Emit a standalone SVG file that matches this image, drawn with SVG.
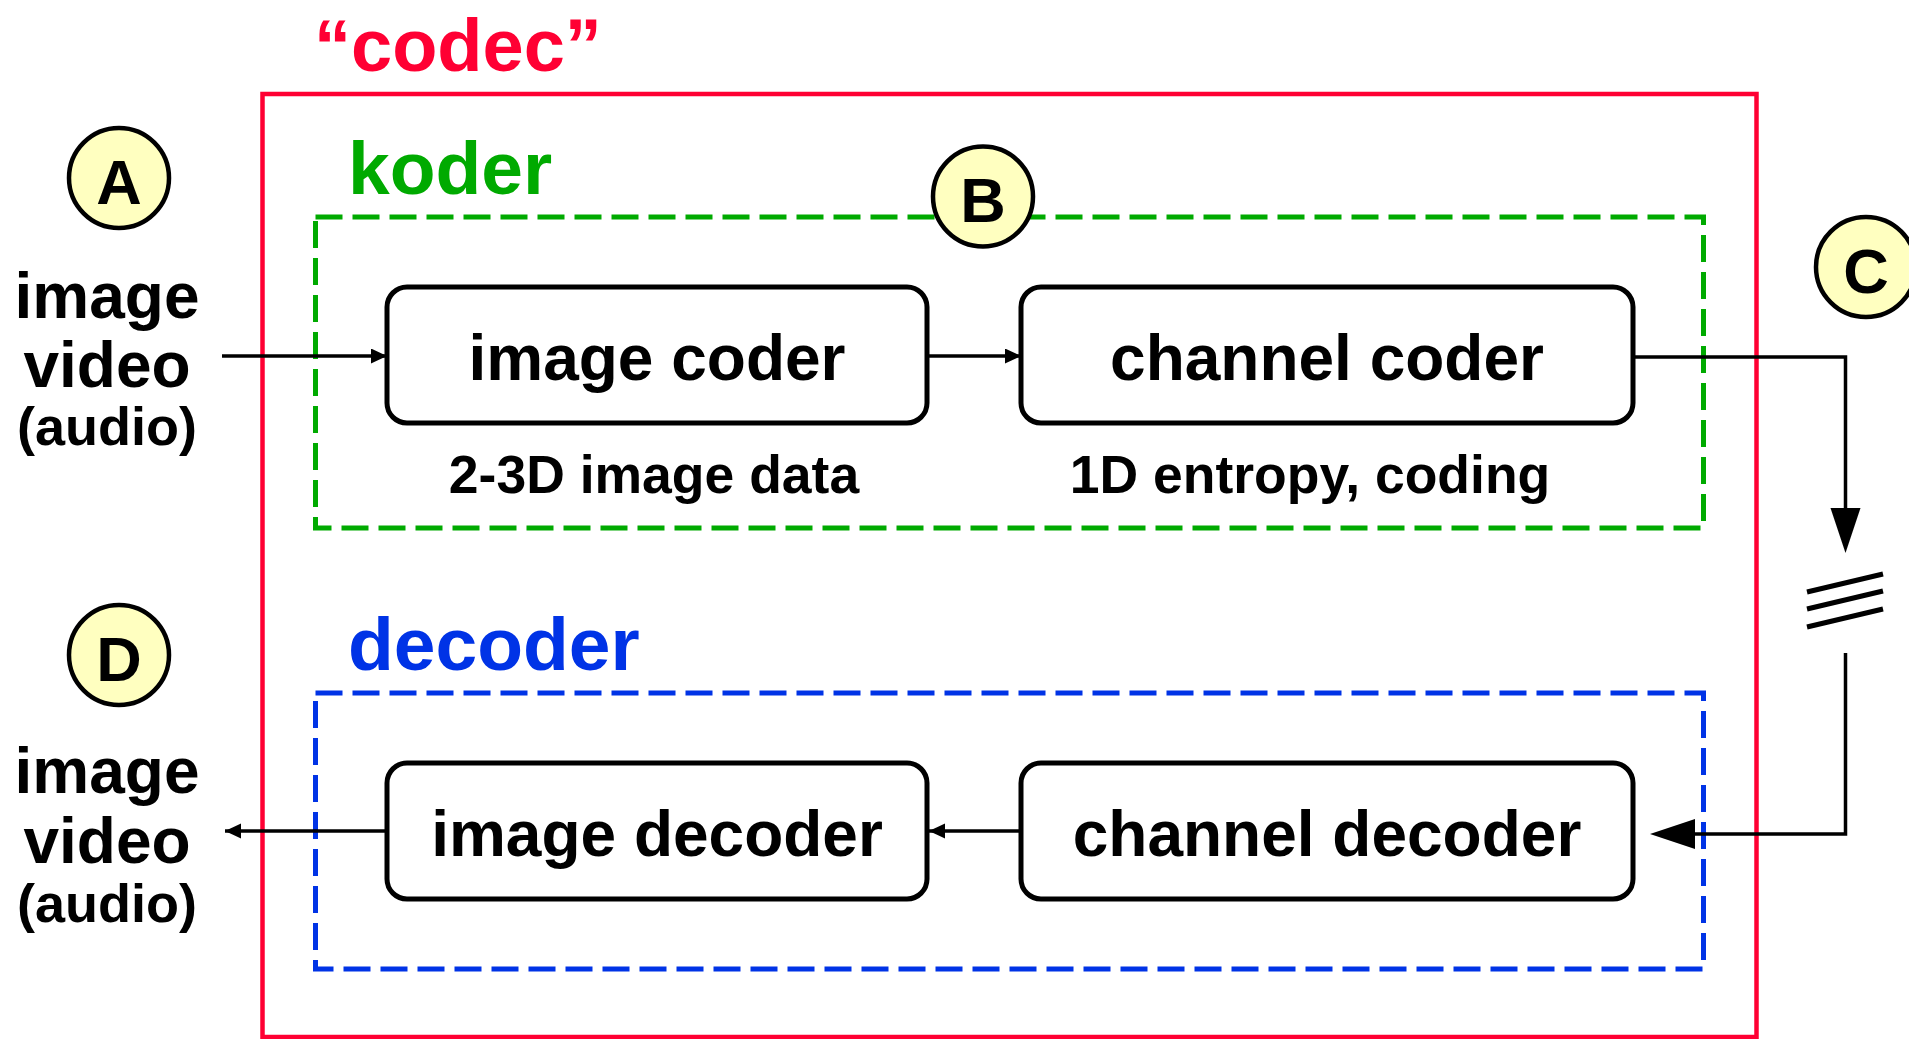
<svg xmlns="http://www.w3.org/2000/svg" width="1909" height="1039" viewBox="0 0 1909 1039">
<style>
text{font-family:"Liberation Sans",Arial,sans-serif;font-weight:bold;}
.box{fill:#fff;stroke:#000;stroke-width:5;}
.lbl{font-size:64px;fill:#000;text-anchor:middle;}
.sub{font-size:53.5px;fill:#000;text-anchor:middle;}
.side{font-size:64px;fill:#000;text-anchor:middle;}
.side2{font-size:54px;fill:#000;text-anchor:middle;}
.circ{fill:#FFFFC0;stroke:#000;stroke-width:4.5;}
.ltr{font-size:63px;fill:#000;text-anchor:middle;}
.conn{fill:none;stroke:#000;stroke-width:3.5;}
.title{font-size:75px;}
.dash{fill:none;stroke-width:5;stroke-dasharray:27 10;}
</style>
<defs>
<marker id="sm" markerUnits="userSpaceOnUse" markerWidth="18" markerHeight="16" refX="16" refY="7.5" orient="auto">
<path d="M0,0 L16,7.5 L0,15 Z" fill="#000"/>
</marker>
</defs>
<rect x="0" y="0" width="1909" height="1039" fill="#fff"/>
<g id="codec">
<rect x="262.5" y="94" width="1494" height="943" fill="none" stroke="#FF0033" stroke-width="4.5"/>
<text x="314" y="71" class="title" fill="#FF0033" style="font-size:74px">“codec”</text>
</g>
<g id="koder">
<rect class="dash" x="315.5" y="217" width="1388" height="311" stroke="#00AA00"/>
<text x="348" y="194" class="title" fill="#00AA00">koder</text>
</g>
<g id="decoder">
<rect class="dash" x="315.5" y="693" width="1388" height="276" stroke="#0033E6"/>
<text x="348" y="670" class="title" fill="#0033E6">decoder</text>
</g>
<g id="connectors">
<line class="conn" x1="222" y1="356" x2="387" y2="356" marker-end="url(#sm)"/>
<line class="conn" x1="927" y1="356" x2="1021" y2="356" marker-end="url(#sm)"/>
<polyline class="conn" points="1633,357 1845.5,357 1845.5,510"/>
<path d="M1830.5,508 L1860.5,508 L1845.5,553 Z" fill="#000"/>
<g stroke="#000" stroke-width="5">
<line x1="1807" y1="592" x2="1883" y2="574"/>
<line x1="1807" y1="609" x2="1883" y2="591"/>
<line x1="1807" y1="627" x2="1883" y2="609"/>
</g>
<polyline class="conn" points="1845.5,653 1845.5,834 1693,834"/>
<path d="M1695,819 L1695,849 L1650,834 Z" fill="#000"/>
<line class="conn" x1="1021" y1="831" x2="929" y2="831" marker-end="url(#sm)"/>
<line class="conn" x1="387" y1="831" x2="225" y2="831" marker-end="url(#sm)"/>
</g>
<g id="image-coder">
<rect class="box" x="387" y="287" width="540" height="136" rx="20"/>
<text class="lbl" x="657" y="380">image coder</text>
<text class="sub" x="654" y="493">2-3D image data</text>
</g>
<g id="channel-coder">
<rect class="box" x="1021" y="287" width="612" height="136" rx="20"/>
<text class="lbl" x="1327" y="380">channel coder</text>
<text class="sub" x="1310" y="493">1D entropy, coding</text>
</g>
<g id="image-decoder">
<rect class="box" x="387" y="763" width="540" height="136" rx="20"/>
<text class="lbl" x="657" y="856">image decoder</text>
</g>
<g id="channel-decoder">
<rect class="box" x="1021" y="763" width="612" height="136" rx="20"/>
<text class="lbl" x="1327" y="856">channel decoder</text>
</g>
<g id="input">
<text class="side" x="107" y="318">image</text>
<text class="side" x="107" y="387">video</text>
<text class="side2" x="107" y="445">(audio)</text>
</g>
<g id="output">
<text class="side" x="107" y="793">image</text>
<text class="side" x="107" y="863">video</text>
<text class="side2" x="107" y="922">(audio)</text>
</g>
<g id="A"><ellipse class="circ" cx="119" cy="178" rx="50" ry="50"/><text class="ltr" x="119" y="204">A</text></g>
<g id="B"><ellipse class="circ" cx="983" cy="196.5" rx="50" ry="50"/><text class="ltr" x="983" y="222">B</text></g>
<g id="C"><ellipse class="circ" cx="1866" cy="267" rx="50" ry="50"/><text class="ltr" x="1866" y="293">C</text></g>
<g id="D"><ellipse class="circ" cx="119" cy="655" rx="50" ry="50"/><text class="ltr" x="119" y="681">D</text></g>
</svg>
